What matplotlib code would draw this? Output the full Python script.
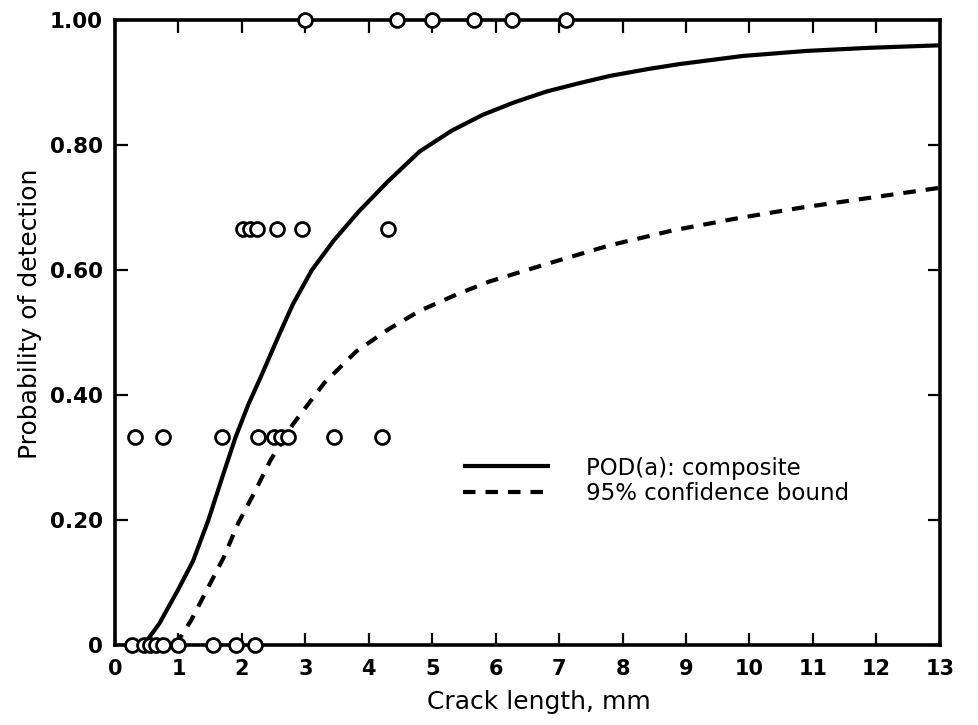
import matplotlib
matplotlib.use("Agg")
import matplotlib.pyplot as plt

plt.rcParams['font.family'] = ['DejaVu Sans']

# POD(a) composite curve (crack length mm, probability)
pod_x = [0.45, 0.7, 1.0, 1.23, 1.47, 1.71, 1.9, 2.1, 2.3, 2.6, 2.8, 3.1, 3.45, 3.85,
         4.3, 4.8, 5.3, 5.8, 6.3, 6.8, 7.3, 7.8, 8.4, 8.9, 9.9, 10.9, 11.9, 13.0]
pod_y = [0.0, 0.035, 0.09, 0.135, 0.2, 0.275, 0.333, 0.385, 0.43, 0.5, 0.545, 0.6, 0.648, 0.695,
         0.742, 0.79, 0.823, 0.849, 0.869, 0.886, 0.899, 0.911, 0.922, 0.93, 0.943, 0.951, 0.956, 0.96]

# 95% confidence bound
cb_x = [0.95, 1.2, 1.47, 1.71, 1.94, 2.2, 2.45, 2.8, 3.3, 3.8, 4.3, 4.8, 5.4, 5.9,
        6.8, 7.8, 8.8, 9.8, 10.8, 11.9, 13.0]
cb_y = [0.0, 0.04, 0.093, 0.14, 0.195, 0.245, 0.296, 0.353, 0.42, 0.47, 0.505, 0.535, 0.562, 0.582,
        0.61, 0.64, 0.664, 0.683, 0.7, 0.716, 0.732]

# Observed hit fractions
obs0_x = [0.27, 0.45, 0.55, 0.65, 0.75, 1.0, 1.55, 1.9, 2.2]
obs33_x = [0.32, 0.75, 1.68, 2.25, 2.5, 2.62, 2.72, 3.45, 4.2]
obs67_x = [2.02, 2.13, 2.24, 2.55, 2.95, 4.3]
obs100_x = [3.0, 4.45, 5.0, 5.65, 6.25, 7.1]

x_ticks = list(range(0, 14))
y_ticks = [0, 0.2, 0.4, 0.6, 0.8, 1.0]
y_ticklabels = ['0', '0.20', '0.40', '0.60', '0.80', '1.00']

fig = plt.figure(figsize=(9.79, 7.25), dpi=100)
ax = fig.add_axes([0.1175, 0.110, 0.8425, 0.862])

ax.plot(pod_x, pod_y, color='black', lw=3.0, solid_capstyle='butt',
        label='POD(a): composite', zorder=3)
ax.plot(cb_x, cb_y, color='black', lw=3.0, linestyle=(0, (3, 2.4)),
        label='95% confidence bound', zorder=3)

mk = dict(marker='o', linestyle='none', markersize=10, markerfacecolor='white',
          markeredgecolor='black', markeredgewidth=2.0, clip_on=False, zorder=5)
ax.plot(obs0_x, [0.0] * len(obs0_x), **mk)
ax.plot(obs33_x, [1 / 3] * len(obs33_x), **mk)
ax.plot(obs67_x, [2 / 3] * len(obs67_x), **mk)
ax.plot(obs100_x, [1.0] * len(obs100_x), **mk)

ax.set_xlim(0, 13)
ax.set_ylim(0, 1.0)
ax.set_xticks(x_ticks)
ax.set_xticklabels([str(t) for t in x_ticks], fontsize=15, fontweight='bold')
ax.set_yticks(y_ticks)
ax.set_yticklabels(y_ticklabels, fontsize=15.5, fontweight='bold')
ax.tick_params(axis='both', direction='in', length=9, width=1.6,
               top=True, right=True)
ax.tick_params(axis='x', pad=10)
ax.tick_params(axis='y', pad=9)
for s in ax.spines.values():
    s.set_linewidth(2.6)

ax.set_xlabel('Crack length, mm', fontsize=18)
ax.set_ylabel('Probability of detection', fontsize=18)
ax.xaxis.set_label_coords(0.514, -0.072)
ax.yaxis.set_label_coords(-0.089, 0.53)

leg = ax.legend(loc='upper left', bbox_to_anchor=(0.422, 0.302), frameon=False,
                fontsize=16.5, handlelength=3.8, handletextpad=1.55,
                labelspacing=0.12, borderpad=0, borderaxespad=0)

fig.savefig('out.png', dpi=100)
